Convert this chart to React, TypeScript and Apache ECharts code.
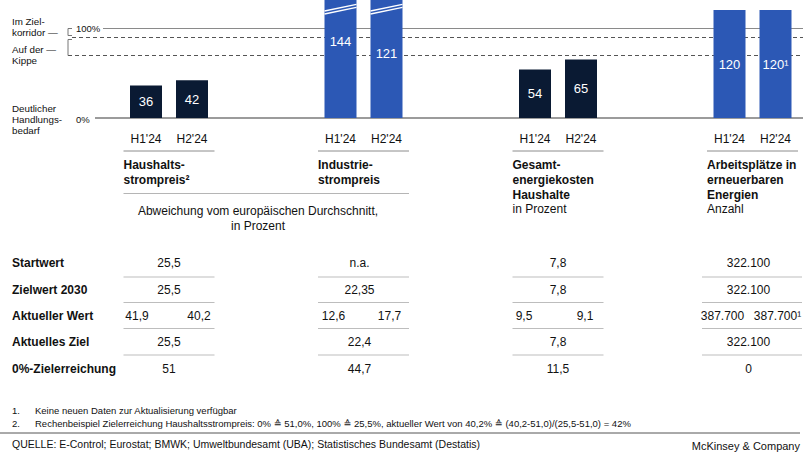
import React, { useEffect, useRef } from "react";
import * as echarts from "echarts";

// ---------------- data ----------------
const groupTitles = [
  ["Haushalts-", "strompreis²"],
  ["Industrie-", "strompreis"],
  ["Gesamt-", "energiekosten", "Haushalte"],
  ["Arbeitsplätze in", "erneuerbaren", "Energien"],
];
const groupUnits = ["", "", "in Prozent", "Anzahl"];
const sharedUnit = ["Abweichung vom europäischen Durchschnitt,", "in Prozent"];
const periods = ["H1'24", "H2'24"];
const h1Values = [36, 144, 54, 120];
const h2Values = [42, 121, 65, 120];
const h1Labels = ["36", "144", "54", "120"];
const h2Labels = ["42", "121", "65", "120¹"];
const brokenGroups = [1];
const targetValue = 100;
const corridorValue = 90;
const tippingValue = 70;
const yTickValues = [0, 100];
const yTickLabels = ["0%", "100%"];
const zoneNotes = [
  ["Im Ziel-", "korridor —"],
  ["Auf der —", "Kippe"],
  ["Deutlicher", "Handlungs-", "bedarf"],
];
const rowLabels = ["Startwert", "Zielwert 2030", "Aktueller Wert", "Aktuelles Ziel", "0%-Zielerreichung"];
const startwert = ["25,5", "n.a.", "7,8", "322.100"];
const zielwert2030 = ["25,5", "22,35", "7,8", "322.100"];
const aktuellerWertH1 = ["41,9", "12,6", "9,5", "387.700"];
const aktuellerWertH2 = ["40,2", "17,7", "9,1", "387.700¹"];
const aktuellesZiel = ["25,5", "22,4", "7,8", "322.100"];
const nullProzentZiel = ["51", "44,7", "11,5", "0"];
const footnotes = [
  "Keine neuen Daten zur Aktualisierung verfügbar",
  "Rechenbeispiel Zielerreichung Haushaltsstrompreis: 0% ≙ 51,0%, 100% ≙ 25,5%, aktueller Wert von 40,2% ≙ (40,2-51,0)/(25,5-51,0) = 42%",
];
const sourceText = "QUELLE: E-Control; Eurostat; BMWK; Umweltbundesamt (UBA); Statistisches Bundesamt (Destatis)";
const brandText = "McKinsey & Company";

// ---------------- style / layout ----------------
const FONT = "'Liberation Sans', Arial, Helvetica, 'DejaVu Sans', sans-serif";
const NAVY = "#0a1a33";
const BLUE = "#2c58b5";
const GROUP_COLORS = [NAVY, BLUE, NAVY, BLUE];
const INK = "#111111";
const W = 803;
const GRID_LEFT = 71.75;
const GRID_TOP = 0;
const GRID_H = 118;
const BAND = 194.5;
const PX_PER_PCT = 0.9;
const Y_MAX = GRID_H / PX_PER_PCT;
const BAR_W = 32;
const BAR_DX = 23;
const BROKEN_LABEL_POS = 0.59;
const TITLE_HALF = 45.5;
const TABLE_DX = [0, -4, 0, -4];
const TABLE_HALF = [45.5, 45.5, 45.5, 50];
const PAIR_DX = [[-32, 30], [-30, 26], [-34, 27], [-30, 25]];
const ROW_Y = [263, 290, 316, 342, 369];
const SEP_Y = [277, 302.5, 328.5, 355];

const yPix = (v: number) => GRID_TOP + GRID_H * (1 - v / Y_MAX);
const gx = (g: number) => GRID_LEFT + (g + 0.5) * BAND;

function txt(text: string, x: number, y: number, opts: any = {}) {
  return {
    type: "text",
    silent: true,
    z: 10,
    style: {
      text,
      x,
      y,
      fill: INK,
      fontFamily: FONT,
      fontSize: 12,
      align: "left",
      verticalAlign: "middle",
      ...opts,
    },
  };
}
function ln(x1: number, y1: number, x2: number, y2: number, stroke: string, lineWidth = 1, lineDash?: number[]) {
  const style: any = { stroke, lineWidth };
  if (lineDash) style.lineDash = lineDash;
  return { type: "line", silent: true, z: 0, shape: { x1, y1, x2, y2 }, style };
}

function buildGraphics() {
  const els: any[] = [];
  // reference lines
  els.push(ln(103, yPix(targetValue) + 0.5, W, yPix(targetValue) + 0.5, "#8a8a8a", 1));
  els.push(ln(72, yPix(corridorValue) + 0.5, W, yPix(corridorValue) + 0.5, "#555555", 1, [4, 3]));
  els.push(ln(68, yPix(tippingValue) + 0.5, W, yPix(tippingValue) + 0.5, "#555555", 1, [4, 3]));
  els.push(ln(95, yPix(0), W, yPix(0), "#7a7a7a", 1.5));
  // brackets
  const bTop = yPix(targetValue) + 0.5;
  els.push({
    type: "polyline", silent: true, z: 0,
    shape: { points: [[72, bTop], [68, bTop], [68, bTop + 7], [72, bTop + 7]] },
    style: { stroke: "#777", lineWidth: 1, fill: "none" },
  });
  const b2 = yPix(corridorValue) + 2.5;
  els.push({
    type: "polyline", silent: true, z: 0,
    shape: { points: [[72, b2], [68, b2], [68, yPix(tippingValue) + 0.5]] },
    style: { stroke: "#777", lineWidth: 1, fill: "none" },
  });
  // y tick labels
  yTickValues.forEach((v, i) => els.push(txt(yTickLabels[i], 76, yPix(v) + (v === 0 ? 1 : 0), { fontSize: 9.5 })));
  // zone notes
  const noteStarts = [21.7, 49.3, 108.5];
  zoneNotes.forEach((lines, i) =>
    lines.forEach((l, j) => els.push(txt(l, 12, noteStarts[i] + j * 11.2, { fontSize: 9.8 })))
  );
  // group titles
  groupTitles.forEach((lines, g) => {
    const left = gx(g) - TITLE_HALF;
    els.push(ln(left, 151, gx(g) + TITLE_HALF, 151, "#8c8c8c", 1));
    lines.forEach((l, j) => els.push(txt(l, left, 165 + j * 14.8, { fontWeight: "bold" })));
    if (groupUnits[g]) els.push(txt(groupUnits[g], left, 165 + lines.length * 14.8, {}));
  });
  // shared unit for groups 0,1
  els.push(ln(gx(0) - TITLE_HALF, 193.5, gx(1) + TITLE_HALF, 193.5, "#b5b5b5", 1));
  sharedUnit.forEach((l, j) => els.push(txt(l, 258, 211 + j * 14.5, { align: "center" })));
  // table
  const rows = [startwert, zielwert2030, null, aktuellesZiel, nullProzentZiel];
  rowLabels.forEach((lab, r) => {
    els.push(txt(lab, 12, ROW_Y[r], { fontWeight: "bold" }));
    for (let g = 0; g < 4; g++) {
      const c = gx(g) + TABLE_DX[g];
      if (r === 2) {
        els.push(txt(aktuellerWertH1[g], gx(g) + PAIR_DX[g][0], ROW_Y[r], { align: "center" }));
        els.push(txt(aktuellerWertH2[g], gx(g) + PAIR_DX[g][1], ROW_Y[r], { align: "center" }));
      } else {
        els.push(txt((rows[r] as string[])[g], c, ROW_Y[r], { align: "center" }));
      }
    }
  });
  SEP_Y.forEach((y) => {
    for (let g = 0; g < 4; g++) {
      const c = gx(g) + (g === 3 ? -0.5 : 0);
      els.push(ln(c - TABLE_HALF[g], y, c + TABLE_HALF[g], y, "#bdbdbd", 1));
    }
  });
  // footnotes
  footnotes.forEach((f, i) => {
    els.push(txt(`${i + 1}.`, 12, 410.5 + i * 12.5, { fontSize: 9.5 }));
    els.push(txt(f, 35, 410.5 + i * 12.5, { fontSize: 9.5 }));
  });
  els.push(ln(0, 433, 800, 433, "#555555", 1));
  els.push(txt(sourceText, 12, 443.5, { fontSize: 10.5 }));
  els.push(txt(brandText, 800, 445.5, { fontSize: 11, align: "right" }));
  return els;
}

function buildOption() {
  const data: number[][] = [];
  for (let g = 0; g < h1Values.length; g++) {
    const broken = brokenGroups.includes(g) ? 1 : 0;
    data.push([g, 0, h1Values[g], broken]);
    data.push([g, 1, h2Values[g], broken]);
  }
  return {
    animation: false,
    backgroundColor: "#ffffff",
    grid: { left: GRID_LEFT, top: GRID_TOP, width: BAND * 4, height: GRID_H, outerBoundsMode: "none" },
    xAxis: { type: "category", data: groupTitles.map((t) => t.join(" ")), show: false },
    yAxis: { type: "value", min: 0, max: Y_MAX, show: false },
    graphic: { elements: buildGraphics() },
    series: [
      {
        type: "custom",
        z: 5,
        clip: false,
        encode: { x: 0, y: 2 },
        data,
        renderItem: (params: any, api: any) => {
          const g = api.value(0);
          const p = api.value(1);
          const v = api.value(2);
          const broken = api.value(3) === 1;
          const cs = params.coordSys;
          const base = api.coord([g, 0]);
          const x = base[0] + (p === 0 ? -BAR_DX : BAR_DX);
          const top = broken ? cs.y : Math.max(cs.y, api.coord([g, v])[1]);
          const label = p === 0 ? h1Labels[g] : h2Labels[g];
          const ly = broken ? api.coord([g, v * BROKEN_LABEL_POS])[1] : (top + base[1]) / 2;
          const children: any[] = [
            { type: "rect", shape: { x: x - BAR_W / 2, y: top, width: BAR_W, height: base[1] - top }, style: { fill: GROUP_COLORS[g] } },
            { type: "text", style: { text: label, x, y: ly, align: "center", verticalAlign: "middle", fill: "#ffffff", fontFamily: FONT, fontSize: 13 } },
            { type: "text", style: { text: periods[p], x, y: base[1] + 21, align: "center", verticalAlign: "middle", fill: INK, fontFamily: FONT, fontSize: 12 } },
          ];
          if (broken) {
            const by = cs.y + 7.7;
            children.push({ type: "line", shape: { x1: x - BAR_W / 2, y1: by + 3.3, x2: x + BAR_W / 2, y2: by - 3.3 }, style: { stroke: "#ffffff", lineWidth: 1.3 } });
            children.push({ type: "line", shape: { x1: x - BAR_W / 2, y1: by + 6.3, x2: x + BAR_W / 2, y2: by - 0.3 }, style: { stroke: "#ffffff", lineWidth: 1.3 } });
          }
          return { type: "group", children };
        },
      },
    ],
  };
}

export default function App() {
  const ref = useRef<HTMLDivElement>(null);
  useEffect(() => {
    if (!ref.current) return;
    const chart = echarts.init(ref.current, null, { renderer: "svg" });
    chart.setOption(buildOption() as any);
    return () => chart.dispose();
  }, []);
  return <div ref={ref} style={{ position: "fixed", left: 0, top: 0, width: W, height: 452, background: "#fff" }} />;
}
